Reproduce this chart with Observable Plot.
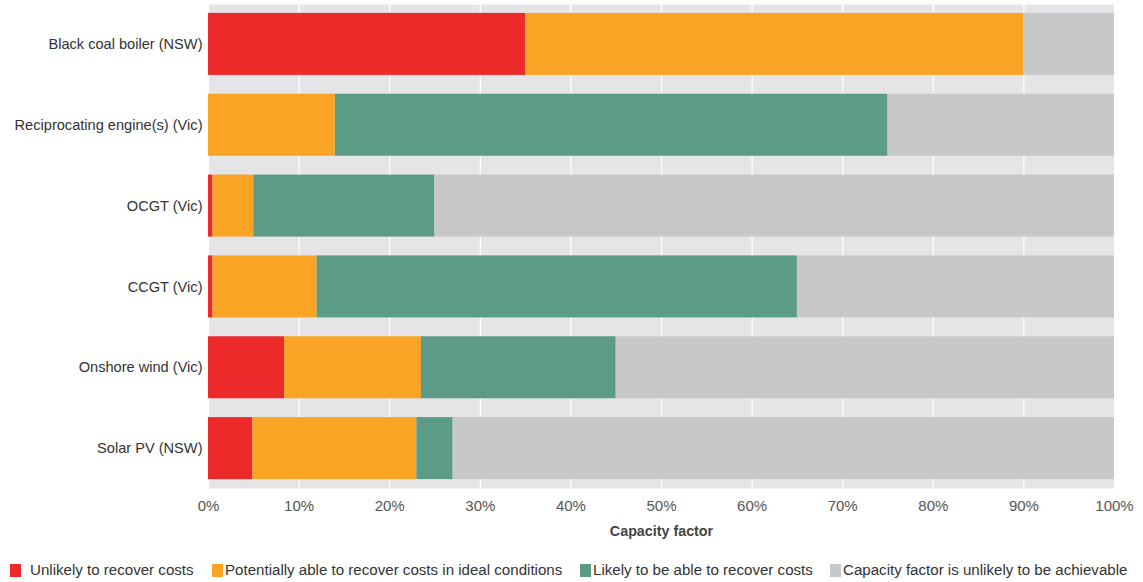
<!DOCTYPE html>
<html>
<head>
<meta charset="utf-8">
<script src="https://cdn.jsdelivr.net/npm/d3@7"></script>
<script src="https://cdn.jsdelivr.net/npm/@observablehq/plot@0.6"></script>
<style>
  html, body { margin: 0; padding: 0; background: #fff; }
  body { width: 1143px; height: 582px; overflow: hidden; font-family: "Liberation Sans", Arial, sans-serif; }
  #legend { position: relative; height: 37px; font-size: 15.1px; color: #333; }
  .sw { position: absolute; top: 19px; width: 11px; height: 13px; }
  .tx { position: absolute; top: 16px; white-space: nowrap; line-height: 18px; }
</style>
</head>
<body>
<div id="chart"></div>
<div id="legend"></div>
<script>
const technologies = [
  "Black coal boiler (NSW)",
  "Reciprocating engine(s) (Vic)",
  "OCGT (Vic)",
  "CCGT (Vic)",
  "Onshore wind (Vic)",
  "Solar PV (NSW)"
];
const categories = [
  "Unlikely to recover costs",
  "Potentially able to recover costs in ideal conditions",
  "Likely to be able to recover costs",
  "Capacity factor is unlikely to be achievable"
];
const colors = ["#ec2a2a", "#f9a424", "#5c9c86", "#c6c8ca"];
// segment widths (% capacity factor) per technology, same order as technologies
const unlikely     = [35, 0, 0.5, 0.5, 8.4, 4.9];
const potentially  = [55, 14, 4.5, 11.5, 15.1, 18.1];
const likely       = [0, 61, 20, 53, 21.5, 4];
const unachievable = [10, 25, 75, 35, 55, 73];
const xTicks = [0, 10, 20, 30, 40, 50, 60, 70, 80, 90, 100];

const series = [unlikely, potentially, likely, unachievable];
const data = [];
technologies.forEach((t, i) => {
  series.forEach((s, j) => data.push({tech: t, cat: categories[j], value: s[i]}));
});

const plot = Plot.plot({
  width: 1143,
  height: 545,
  marginLeft: 208,
  marginRight: 29,
  marginTop: 4,
  marginBottom: 57,
  style: {fontFamily: "Liberation Sans, Arial, sans-serif", fontSize: "13px", background: "#fff"},
  x: {domain: [0, 100], ticks: xTicks, tickFormat: d => d + "%"},
  y: {domain: technologies, paddingInner: 0.233, paddingOuter: 0.11, round: false},
  color: {domain: categories, range: colors},
  marks: [
    Plot.frame({fill: "#e5e5e8", stroke: null}),
    Plot.gridX(xTicks, {stroke: "#ffffff", strokeOpacity: 1, strokeWidth: 1.2}),
    Plot.barX(data, Plot.stackX({y: "tech", x: "value", fill: "cat", order: null})),
    Plot.axisX({ticks: xTicks, tickFormat: d => d + "%", tickSize: 0, tickPadding: 12, fill: "#555",
      fontSize: "15px", label: "Capacity factor", labelAnchor: "center", labelArrow: "none", labelOffset: 47}),
    Plot.axisY({tickSize: 0, tickPadding: 6, fill: "#333", fontSize: "14.6px", label: null})
  ]
});
document.getElementById("chart").appendChild(plot);
// style the axis label
plot.querySelectorAll("text").forEach(t => {
  if (t.textContent === "Capacity factor") {
    t.setAttribute("font-weight", "bold"); t.setAttribute("fill", "#444"); t.setAttribute("font-size", "14.3px");
  }
});

const swX = [10, 212, 580, 830];
const txX = [30, 225, 593, 843];
const legend = document.getElementById("legend");
categories.forEach((c, i) => {
  const sw = document.createElement("div");
  sw.className = "sw";
  sw.style.left = swX[i] + "px";
  sw.style.background = colors[i];
  const tx = document.createElement("div");
  tx.className = "tx";
  tx.style.left = txX[i] + "px";
  tx.textContent = c;
  legend.appendChild(sw); legend.appendChild(tx);
});
</script>
</body>
</html>
